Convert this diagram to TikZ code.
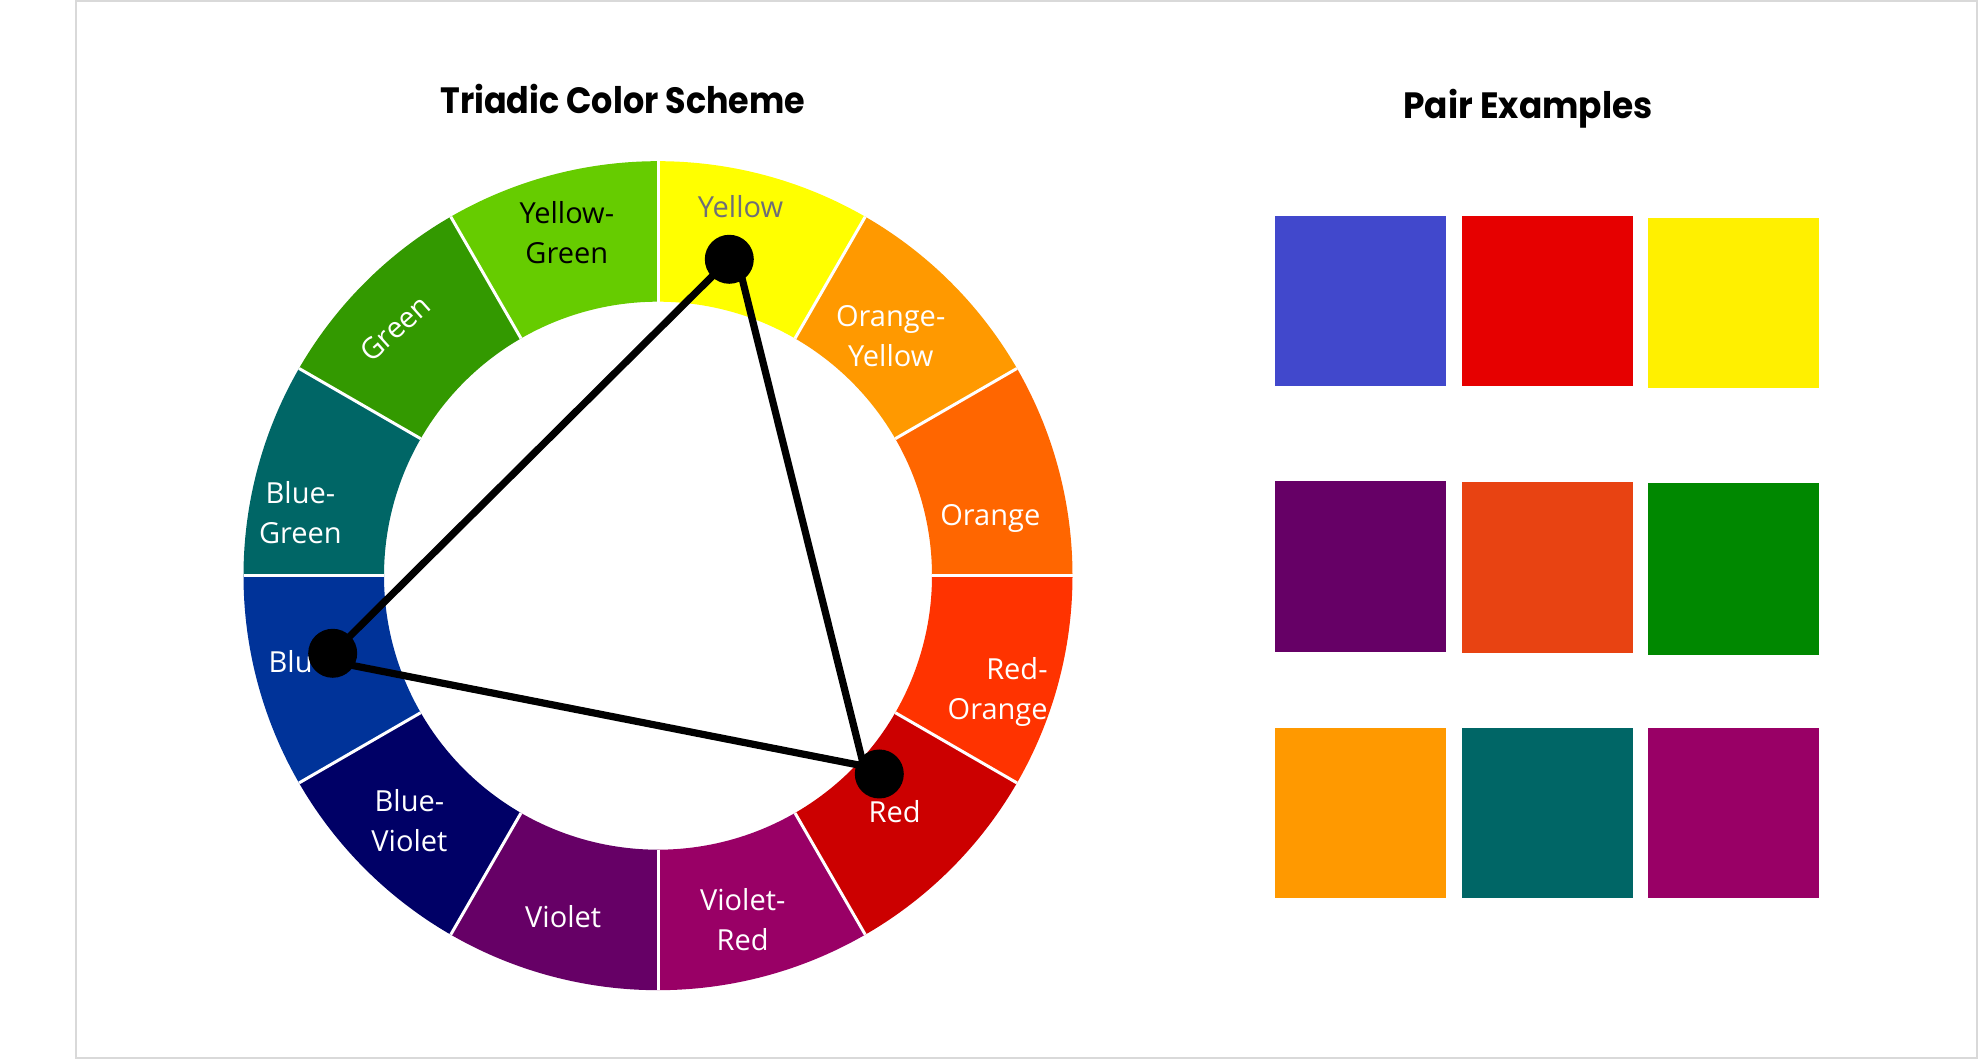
\documentclass[tikz,border=0pt]{standalone}
\usepackage{fontspec}
\setmainfont{Open Sans}
\newfontfamily\titlefont{Poppins}
\usepackage{graphicx}
\definecolor{cY}{HTML}{FFFF00}
\definecolor{cOY}{HTML}{FF9900}
\definecolor{cO}{HTML}{FF6600}
\definecolor{cRO}{HTML}{FF3300}
\definecolor{cR}{HTML}{CC0000}
\definecolor{cVR}{HTML}{990066}
\definecolor{cV}{HTML}{660066}
\definecolor{cBV}{HTML}{000066}
\definecolor{cB}{HTML}{003399}
\definecolor{cBG}{HTML}{006666}
\definecolor{cG}{HTML}{339900}
\definecolor{cYG}{HTML}{66CC00}
\definecolor{ygray}{HTML}{6E6E78}
\definecolor{framegray}{HTML}{D9D9D9}
\definecolor{sqBlue}{HTML}{4148CC}
\definecolor{sqRed}{HTML}{E60000}
\definecolor{sqYellow}{HTML}{FFF000}
\definecolor{sqPurple}{HTML}{660066}
\definecolor{sqOrRed}{HTML}{E84312}
\definecolor{sqGreen}{HTML}{008800}
\definecolor{sqOrange}{HTML}{FF9900}
\definecolor{sqTeal}{HTML}{006666}
\definecolor{sqMagenta}{HTML}{990066}
\begin{document}
\begin{tikzpicture}[x=0.5pt,y=0.5pt,
  lbl/.style={anchor=base, inner sep=0pt, font=\fontsize{14.5}{20}\selectfont, text=white},
  dot/.style={circle, fill=black, inner sep=0pt, minimum size=24.5pt},
  tri/.style={line width=3.6pt, black},
  sep/.style={white, line width=1.5pt},
  ttl/.style={anchor=base, inner sep=0pt}]
\useasboundingbox (0,0) rectangle (1978,1059);
\draw[framegray, line width=1pt] (76,1) rectangle (1977,1058);
% wheel
\begin{scope}[shift={(658,483.3)}]
\foreach \a/\c in {60/cY, 30/cOY, 0/cO, -30/cRO, -60/cR, -90/cVR, 240/cV, 210/cBV, 180/cB, 150/cBG, 120/cG, 90/cYG}{
  \fill[\c] (\a:414.5) arc[start angle=\a, end angle=\a+30, radius=414.5]
    -- (\a+30:274) arc[start angle=\a+30, end angle=\a, radius=274] -- cycle;
}
\foreach \a in {0,30,...,330}{
  \draw[sep] (\a:274) -- (\a:414.5);
}
\end{scope}
% labels
\node[lbl, text=ygray] (lY) at (740.5,841.3) {Yellow};
\node[lbl, text=black] (lYG) at (566.8,795.7) {\begin{tabular}[b]{@{}c@{}}Yellow-\\Green\end{tabular}};
\node[lbl, anchor=center, rotate=42] (lG) at (395,730.7) {Green};
\node[lbl] (lOY) at (890.7,692.8) {\begin{tabular}[b]{@{}c@{}}Orange-\\Yellow\end{tabular}};
\node[lbl] (lO) at (990.3,533.5) {Orange};
\node[lbl, anchor=base east] (lRO) at (1048,339) {\begin{tabular}[b]{@{}r@{}}Red-\\Orange\end{tabular}};
\node[lbl] (lR) at (894.7,236.7) {Red};
\node[lbl] (lVR) at (742.7,108) {\begin{tabular}[b]{@{}c@{}}Violet-\\Red\end{tabular}};
\node[lbl] (lV) at (563.2,131.7) {Violet};
\node[lbl] (lBV) at (409.4,207.6) {\begin{tabular}[b]{@{}c@{}}Blue-\\Violet\end{tabular}};
\node[lbl, anchor=base west] (lB) at (268.3,386.7) {Blue};
\node[lbl] (lBG) at (300.4,515) {\begin{tabular}[b]{@{}c@{}}Blue-\\Green\end{tabular}};
% triad
\node[dot] (dY) at (729.3,799.7) {};
\node[dot] (dB) at (332.7,405.7) {};
\node[dot] (dR) at (879.3,285) {};
\draw[tri] (dY.center) -- (dB.center);
\draw[tri] ([xshift=4pt]dY.center) -- ([xshift=-6.8pt]dR.center);
\draw[tri] ([yshift=-4.15pt]dB.center) -- ([yshift=2.45pt]dR.center);
% titles
\node[ttl] (t1) at (622.8,945.7) {\resizebox{182.4pt}{\height}{\fontsize{18.3}{22}\selectfont\titlefont\bfseries Triadic Color Scheme}};
\node[ttl] (t2) at (1528,940.7) {\resizebox{124.65pt}{\height}{\fontsize{18.3}{22}\selectfont\titlefont\bfseries Pair Examples}};
% swatches
\fill[sqBlue]    (1275,673)   rectangle (1446,843);
\fill[sqRed]     (1462,673)   rectangle (1633,843);
\fill[sqYellow]  (1648,670.5) rectangle (1819,841);
\fill[sqPurple]  (1275,406.8) rectangle (1446,578.4);
\fill[sqOrRed]   (1462,405.5) rectangle (1633,577.1);
\fill[sqGreen]   (1648,404.3) rectangle (1819,575.8);
\fill[sqOrange]  (1275,160.8) rectangle (1446,331.1);
\fill[sqTeal]    (1462,160.8) rectangle (1633,331.1);
\fill[sqMagenta] (1648,160.8) rectangle (1819,331.1);
\end{tikzpicture}
\end{document}
